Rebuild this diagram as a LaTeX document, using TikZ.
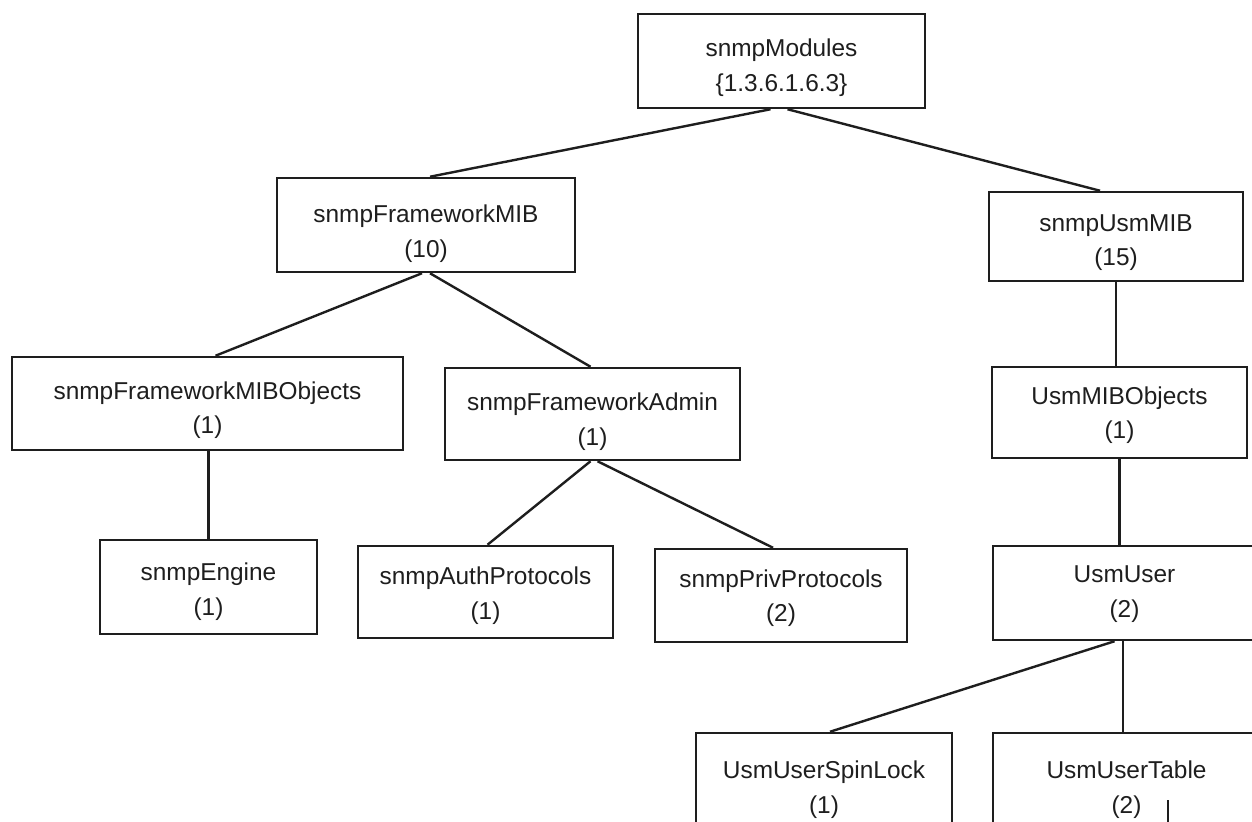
\documentclass[tikz,border=0pt]{standalone}
\usepackage{fontspec}
\setmainfont{Liberation Sans}
\definecolor{ink}{HTML}{1E1E1E}
% two-line label of a MIB node, moved vertically by #1 without changing its size
\newcommand{\mibtext}[3]{\raisebox{#1}[\height][\depth]{\begin{tabular}{@{}c@{}}#2\\#3\end{tabular}}}
\begin{document}
\begin{tikzpicture}[x=0.5pt,y=-0.5pt,
  mibbox/.style={draw=ink, line width=1.25pt, fill=white, text=ink,
    font=\fontsize{12.2}{17.4}\selectfont, inner sep=0pt},
  link/.style={draw=ink, line width=1.2pt}]
\useasboundingbox (0,0) rectangle (1252,822);
\clip (0,0) rectangle (1252,822);
\fill[white] (0,0) rectangle (1252,822);

% MIB tree nodes
\node[mibbox, minimum width=143.5pt, minimum height=47pt] (mod) at (781.5,61) {\mibtext{-3pt}{snmpModules}{\{1.3.6.1.6.3\}}};
\node[mibbox, minimum width=149pt, minimum height=47pt] (fmib) at (426,225) {\mibtext{-4pt}{snmpFrameworkMIB}{(10)}};
\node[mibbox, minimum width=127pt, minimum height=44.5pt] (usm) at (1116,236.5) {\mibtext{-2.5pt}{snmpUsmMIB}{(15)}};
\node[mibbox, minimum width=195.5pt, minimum height=46.5pt] (fobj) at (207.5,403.5) {\mibtext{-3pt}{snmpFrameworkMIBObjects}{(1)}};
\node[mibbox, minimum width=147.5pt, minimum height=46pt] (adm) at (592.5,414) {\mibtext{-3.5pt}{snmpFrameworkAdmin}{(1)}};
\node[mibbox, minimum width=127.5pt, minimum height=45.5pt] (uobj) at (1119.5,412.5) {\mibtext{-1pt}{UsmMIBObjects}{(1)}};
\node[mibbox, minimum width=108.5pt, minimum height=47pt] (eng) at (208.5,587) {\mibtext{-2pt}{snmpEngine}{(1)}};
\node[mibbox, minimum width=127.5pt, minimum height=46pt] (auth) at (485.5,592) {\mibtext{-1.5pt}{snmpAuthProtocols}{(1)}};
\node[mibbox, minimum width=126pt, minimum height=46.5pt] (priv) at (781,595.5) {\mibtext{-1pt}{snmpPrivProtocols}{(2)}};
\node[mibbox, minimum width=131.5pt, minimum height=47pt] (uuser) at (1124.5,593) {\mibtext{0pt}{UsmUser}{(2)}};
\node[mibbox, minimum width=128pt, minimum height=50pt] (spin) at (824,783) {\mibtext{-3pt}{UsmUserSpinLock}{(1)}};
\node[mibbox, minimum width=133.5pt, minimum height=50pt] (tbl) at (1126.5,783) {\mibtext{-3pt}{UsmUserTable}{(2)}};

% branches
\draw[link] ([xshift=-5.5pt]mod.south) -- ([xshift=2pt]fmib.north);
\draw[link] ([xshift=3pt]mod.south) -- ([xshift=-8pt]usm.north);
\draw[link] ([xshift=-2pt]fmib.south) -- ([xshift=4pt]fobj.north);
\draw[link] ([xshift=2pt]fmib.south) -- ([xshift=-1pt]adm.north);
\draw[link] (eng.north |- fobj.south) -- (eng.north);
\draw[link] ([xshift=-1pt]adm.south) -- ([xshift=1pt]auth.north);
\draw[link] ([xshift=2.5pt]adm.south) -- ([xshift=-4pt]priv.north);
\draw[link] (usm.south) -- (usm.south |- uobj.north);
\draw[link] (uobj.south) -- (uobj.south |- uuser.north);
\draw[link] ([xshift=-5pt]uuser.south) -- ([xshift=3pt]spin.north);
\draw[link] ([xshift=-0.75pt]uuser.south) -- ([xshift=-0.75pt]uuser.south |- tbl.north);

% start of the branch below UsmUserTable
\coordinate (stub) at (1168,800);
\coordinate (stubend) at (1168,830);
\draw[link, line width=0.8pt] (stub) -- (stubend);
\end{tikzpicture}
\end{document}
